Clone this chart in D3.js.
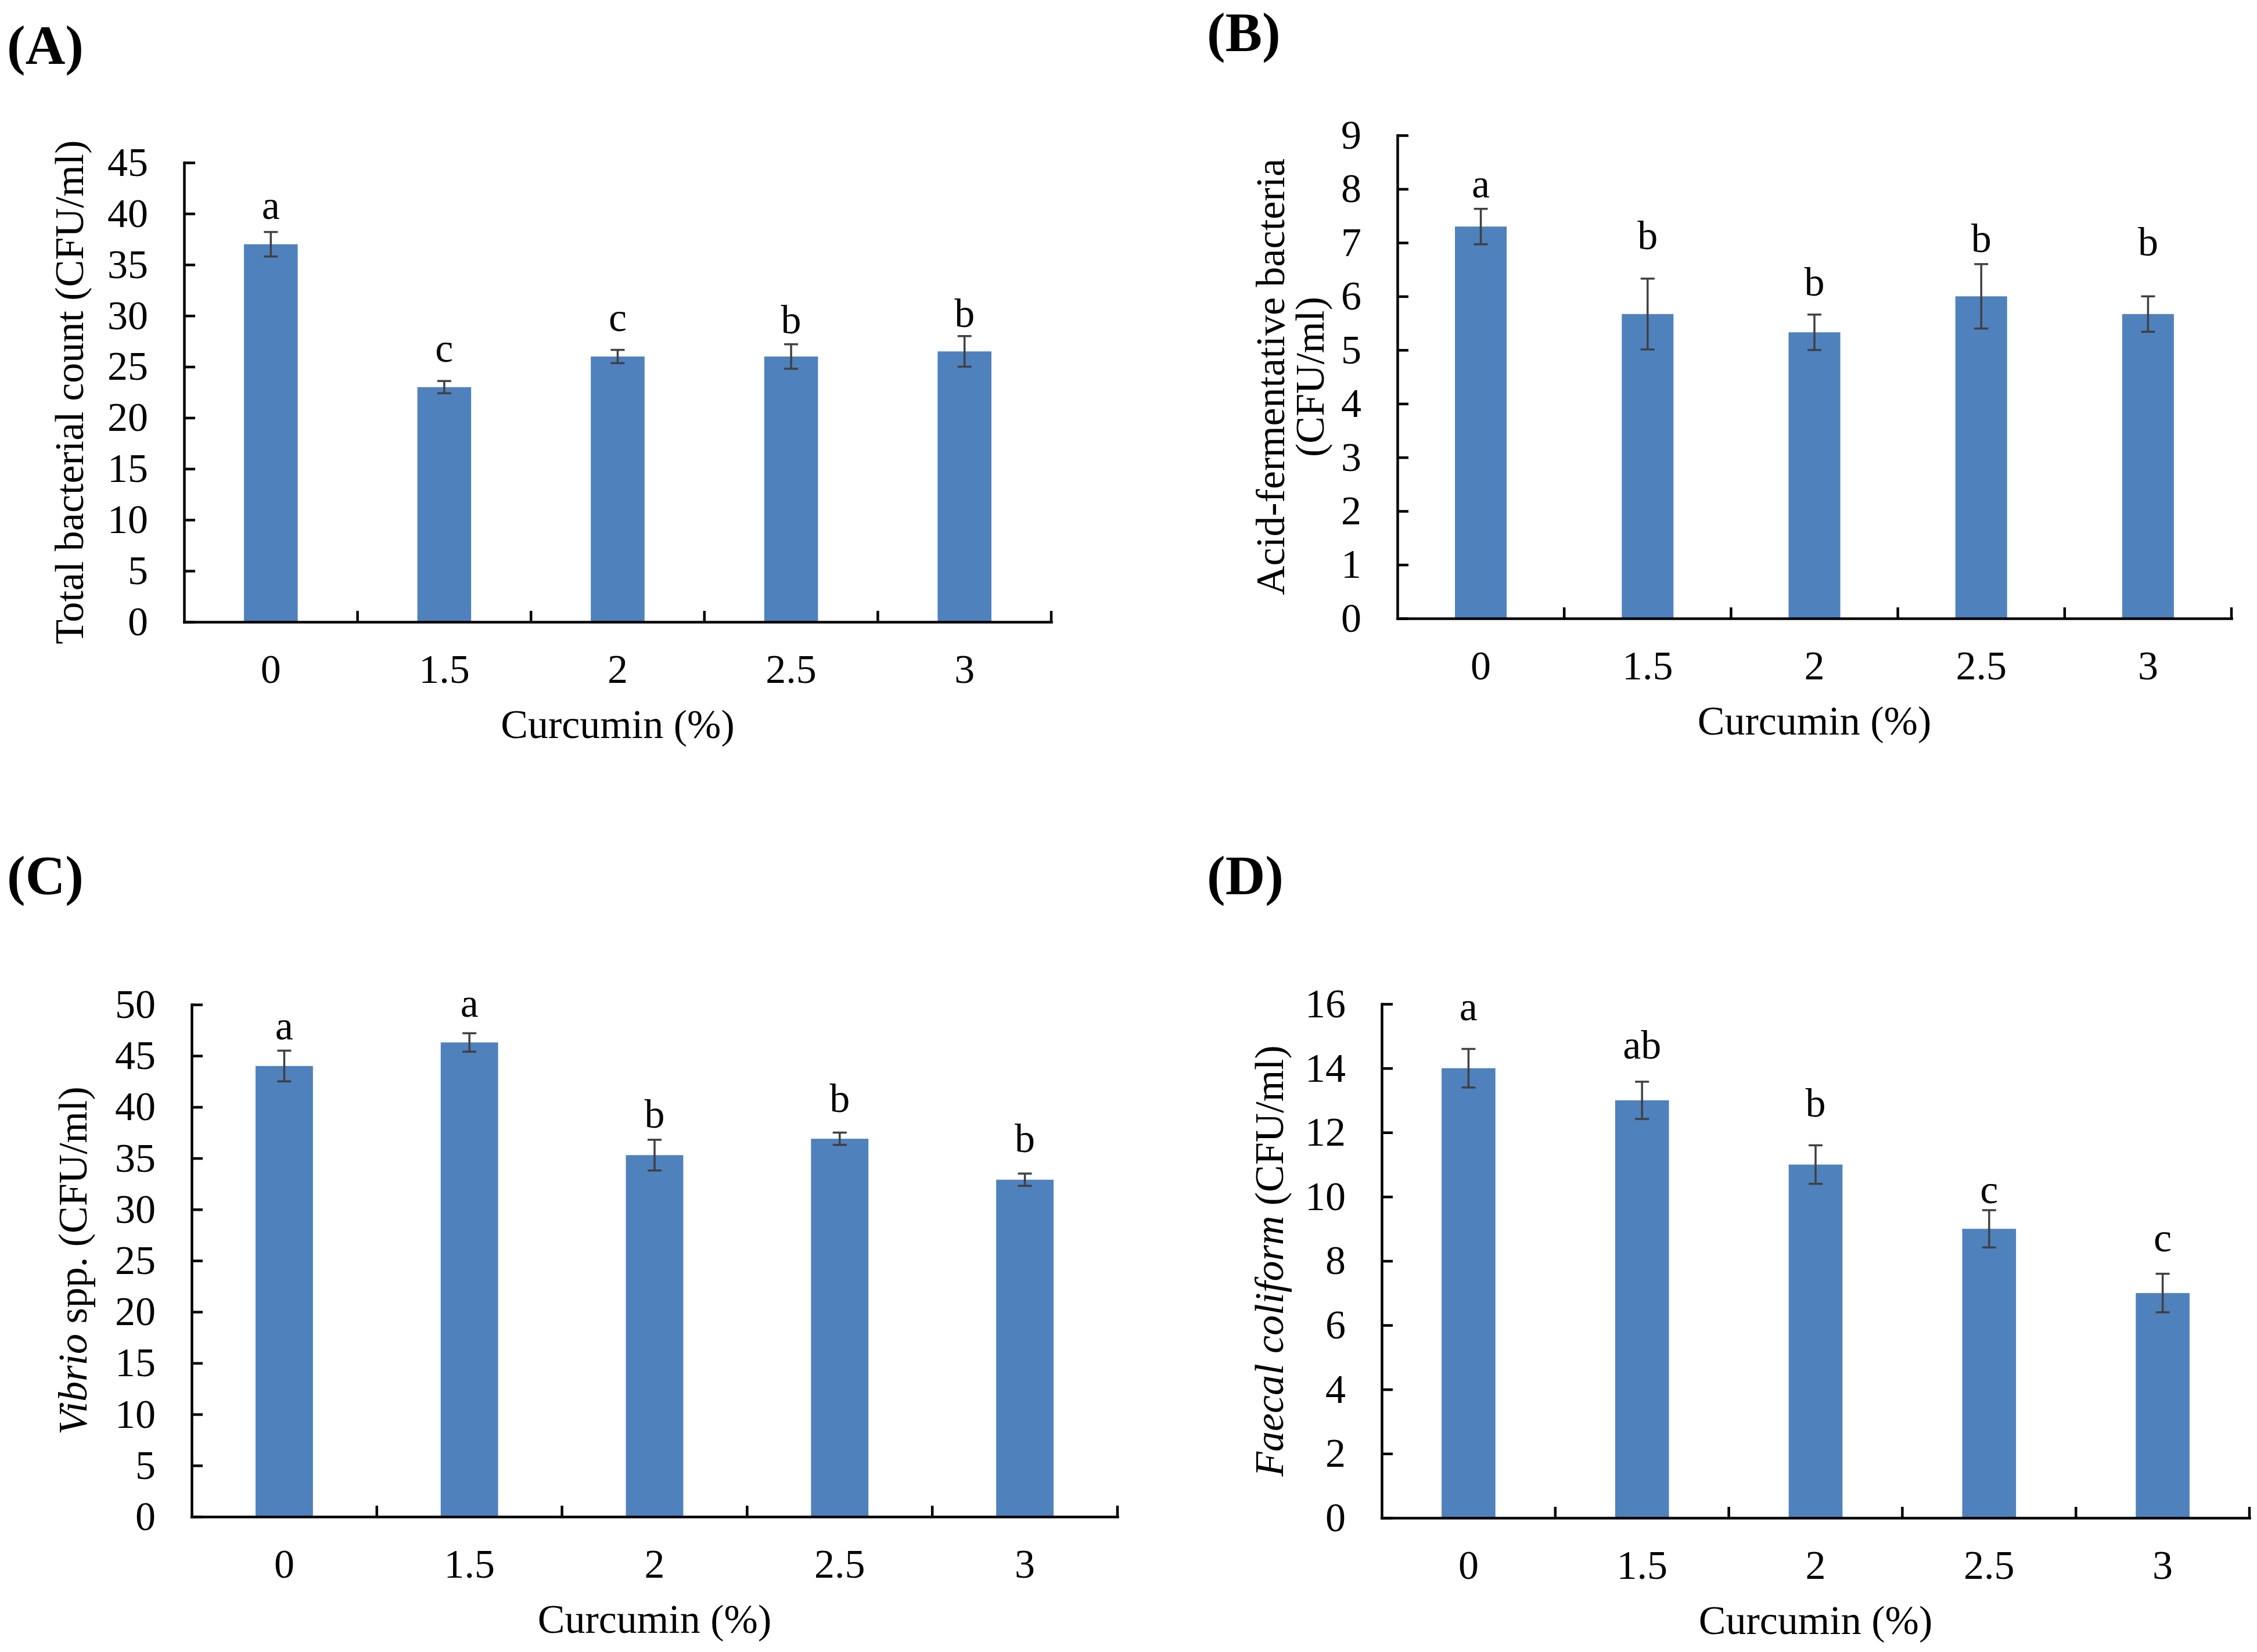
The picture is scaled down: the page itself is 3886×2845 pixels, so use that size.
<!DOCTYPE html>
<html>
<head>
<meta charset="utf-8">
<script src="https://cdn.jsdelivr.net/npm/d3@7"></script>
<style>
body{margin:0;background:#fff}
text{font-family:"Liberation Serif","Times New Roman",serif;fill:#000}
</style>
</head>
<body>
<script>
// curcumin doses, shared by all four panels
const doses = ['0', '1.5', '2', '2.5', '3'];

// (A) total bacterial count
const totalMean = [37, 23, 26, 26, 26.5];
const totalErr = [1.2, 0.6, 0.65, 1.2, 1.5];
const totalLetters = ['a', 'c', 'c', 'b', 'b'];
const totalLetterAt = [39.5, 25.5, 28.5, 28.3, 28.9];
const totalTicks = [0, 5, 10, 15, 20, 25, 30, 35, 40, 45];

// (B) acid-fermentative bacteria
const acidMean = [7.3, 5.67, 5.33, 6.0, 5.67];
const acidErr = [0.33, 0.66, 0.33, 0.6, 0.33];
const acidLetters = ['a', 'b', 'b', 'b', 'b'];
const acidLetterAt = [7.84, 6.88, 6.01, 6.83, 6.76];
const acidTicks = [0, 1, 2, 3, 4, 5, 6, 7, 8, 9];

// (C) Vibrio spp.
const vibrioMean = [44, 46.3, 35.3, 36.9, 32.9];
const vibrioErr = [1.5, 0.9, 1.5, 0.6, 0.6];
const vibrioLetters = ['a', 'a', 'b', 'b', 'b'];
const vibrioLetterAt = [46.6, 48.8, 38.0, 39.5, 35.6];
const vibrioTicks = [0, 5, 10, 15, 20, 25, 30, 35, 40, 45, 50];

// (D) faecal coliform
const faecalMean = [14, 13, 11, 9, 7];
const faecalErr = [0.6, 0.58, 0.6, 0.58, 0.6];
const faecalLetters = ['a', 'ab', 'b', 'c', 'c'];
const faecalLetterAt = [15.5, 14.3, 12.5, 9.8, 8.3];
const faecalTicks = [0, 2, 4, 6, 8, 10, 12, 14, 16];

const W = 3886, H = 2845;
const blue = '#4F81BD', errColor = '#404040';
const fs = 70;

let svg = d3.select('body').append('svg')
    .attr('width', W)
    .attr('height', H)
    .attr('viewBox', `0 0 ${W} ${H}`);

let panels = [
  {tag: '(A)', tagX: 12, tagY: 110, left: 317, right: 1810, top: 280, bottom: 1071,
   mean: totalMean, err: totalErr, letters: totalLetters, letterAt: totalLetterAt, ticks: totalTicks,
   titleX: 143, title: [[{t: 'Total bacterial count (CFU/ml)'}]]},
  {tag: '(B)', tagX: 2078, tagY: 88, left: 2406, right: 3842, top: 233, bottom: 1065,
   mean: acidMean, err: acidErr, letters: acidLetters, letterAt: acidLetterAt, ticks: acidTicks,
   titleX: 2211, title: [[{t: 'Acid-fermentative bacteria'}], [{t: '(CFU/ml)'}]]},
  {tag: '(C)', tagX: 12, tagY: 1540, left: 330, right: 1924, top: 1730, bottom: 2612,
   mean: vibrioMean, err: vibrioErr, letters: vibrioLetters, letterAt: vibrioLetterAt, ticks: vibrioTicks,
   titleX: 149, title: [[{t: 'Vibrio', i: true}, {t: ' spp. (CFU/ml)'}]]},
  {tag: '(D)', tagX: 2078, tagY: 1540, left: 2379, right: 3873, top: 1729, bottom: 2614,
   mean: faecalMean, err: faecalErr, letters: faecalLetters, letterAt: faecalLetterAt, ticks: faecalTicks,
   titleX: 2209, title: [[{t: 'Faecal coliform', i: true}, {t: ' (CFU/ml)'}]]}
];

let drawPanel = (p) => {
  let g = svg.append('g');
  let rows = doses.map((d, i) => ({dose: d, mean: p.mean[i], err: p.err[i], letter: p.letters[i], at: p.letterAt[i]}));

  let x = d3.scaleBand().domain(doses).range([p.left, p.right]).padding(0);
  let y = d3.scaleLinear().domain([0, d3.max(p.ticks)]).range([p.bottom, p.top]);
  let bw = x.bandwidth() * 0.31;
  let cx = d => x(d) + x.bandwidth() / 2;

  // bars
  g.selectAll('rect.bar').data(rows).enter().append('rect')
    .attr('class', 'bar')
    .attr('x', d => cx(d.dose) - bw / 2)
    .attr('y', d => y(d.mean))
    .attr('width', bw)
    .attr('height', d => y(0) - y(d.mean))
    .attr('fill', blue);

  // error bars
  let eb = g.selectAll('g.err').data(rows).enter().append('g')
    .attr('stroke', errColor).attr('stroke-width', 3.5);
  eb.append('line')
    .attr('x1', d => cx(d.dose)).attr('x2', d => cx(d.dose))
    .attr('y1', d => y(d.mean + d.err)).attr('y2', d => y(d.mean - d.err));
  eb.append('line')
    .attr('x1', d => cx(d.dose) - 12).attr('x2', d => cx(d.dose) + 12)
    .attr('y1', d => y(d.mean + d.err)).attr('y2', d => y(d.mean + d.err));
  eb.append('line')
    .attr('x1', d => cx(d.dose) - 12).attr('x2', d => cx(d.dose) + 12)
    .attr('y1', d => y(d.mean - d.err)).attr('y2', d => y(d.mean - d.err));

  // significance letters
  g.selectAll('text.letter').data(rows).enter().append('text')
    .attr('class', 'letter')
    .attr('x', d => cx(d.dose))
    .attr('y', d => y(d.at))
    .attr('text-anchor', 'middle')
    .style('font-size', fs + 'px')
    .text(d => d.letter);

  // y axis, ticks pointing inside
  let yAxis = g.append('g')
    .attr('transform', `translate(${p.left},0)`)
    .call(d3.axisLeft(y).tickValues(p.ticks).tickSizeInner(-19).tickSizeOuter(0).tickPadding(62).tickFormat(d3.format('d')));
  yAxis.selectAll('text').style('font-size', fs + 'px');

  // x axis: labels under bands, ticks at band edges
  let xAxis = g.append('g')
    .attr('transform', `translate(0,${p.bottom})`)
    .call(d3.axisBottom(x).tickSize(0).tickSizeOuter(0).tickPadding(55));
  xAxis.selectAll('text').style('font-size', fs + 'px');
  xAxis.selectAll('.sep').data(doses).enter().append('line')
    .attr('class', 'sep')
    .attr('x1', d => x(d) + x.bandwidth()).attr('x2', d => x(d) + x.bandwidth())
    .attr('y1', 0).attr('y2', -19);

  [yAxis, xAxis].forEach(a => {
    a.select('.domain').attr('stroke', '#000').attr('stroke-width', 4.5).attr('stroke-linecap', 'square');
    a.selectAll('line').attr('stroke', '#000').attr('stroke-width', 4.5);
  });

  // x title
  g.append('text')
    .attr('x', (p.left + p.right) / 2)
    .attr('y', p.bottom + 200)
    .attr('text-anchor', 'middle')
    .style('font-size', fs + 'px')
    .text('Curcumin (%)');

  // y title, rotated; second line sits to the right of the first
  let midY = (p.top + p.bottom) / 2;
  p.title.forEach((line, li) => {
    let t = g.append('text')
      .attr('transform', `translate(${p.titleX + li * 68},${midY}) rotate(-90)`)
      .attr('text-anchor', 'middle')
      .style('font-size', fs + 'px');
    line.forEach(part => {
      t.append('tspan').style('font-style', part.i ? 'italic' : 'normal').text(part.t);
    });
  });

  // panel tag
  g.append('text')
    .attr('x', p.tagX)
    .attr('y', p.tagY)
    .style('font-size', '95px')
    .style('font-weight', 'bold')
    .text(p.tag);
};

panels.forEach(drawPanel);
</script>
</body>
</html>
